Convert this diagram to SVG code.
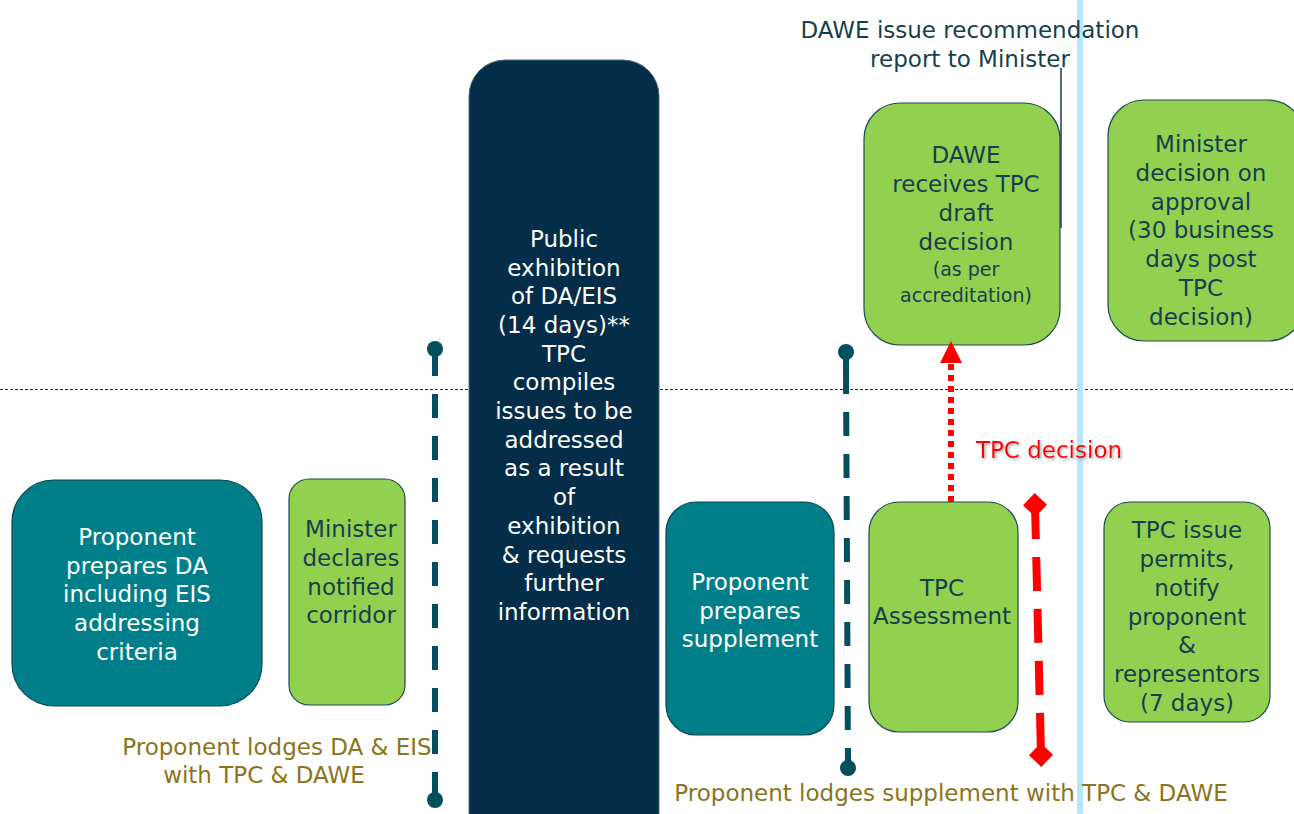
<svg xmlns="http://www.w3.org/2000/svg" width="1294" height="814" viewBox="0 0 1294 814">
<defs>
<style>
.t{font-family:"DejaVu Sans","Liberation Sans",sans-serif;font-size:23px;text-anchor:middle}
.w{fill:#ffffff}
.d{fill:#163f4d}
.o{fill:#8a7420}
.teal{fill:#007f8a;stroke:#0c4450;stroke-width:1.2}
.green{fill:#92d050;stroke:#1f4a50;stroke-width:1.2}
.navy{fill:#032d48;stroke:#4a6a80;stroke-width:1}
.dash{stroke:#02505f;stroke-width:6;stroke-dasharray:24 18;fill:none}
</style>
<marker id="dia" viewBox="0 0 10 10" refX="5" refY="5" markerWidth="3" markerHeight="3" orient="auto"><path d="M0 5 L5 0 L10 5 L5 10 Z" fill="#ff0000"/></marker>
<filter id="sh" x="-10%" y="-30%" width="130%" height="160%"><feDropShadow dx="1.5" dy="1.5" stdDeviation="1" flood-color="#888" flood-opacity="0.7"/></filter>
</defs>
<rect width="1294" height="814" fill="#ffffff"/>
<line x1="0" y1="389.5" x2="1294" y2="389.5" stroke="#0d2a3a" stroke-width="1" stroke-dasharray="3 2"/>
<rect x="1077" y="0" width="6" height="814" fill="#b7e6fb"/>

<g id="n-proponent-da"><rect class="teal" x="12" y="480" width="250" height="226" rx="42"/>
<text class="t w"><tspan x="137" y="545">Proponent</tspan><tspan x="137" y="574">prepares DA</tspan><tspan x="137" y="602">including EIS</tspan><tspan x="137" y="631">addressing</tspan><tspan x="137" y="660">criteria</tspan></text></g>

<g id="n-minister-declares"><rect class="green" x="289" y="479" width="116" height="226" rx="20"/>
<text class="t d"><tspan x="351" y="537">Minister</tspan><tspan x="351" y="566">declares</tspan><tspan x="351" y="595">notified</tspan><tspan x="351" y="623">corridor</tspan></text></g>

<g id="n-public-exhibition"><rect class="navy" x="469" y="60" width="190" height="790" rx="36"/>
<text class="t w"><tspan x="564" y="247">Public</tspan><tspan x="564" y="276">exhibition</tspan><tspan x="564" y="304">of DA/EIS</tspan><tspan x="564" y="333">(14 days)**</tspan><tspan x="564" y="362">TPC</tspan><tspan x="564" y="390">compiles</tspan><tspan x="564" y="419">issues to be</tspan><tspan x="564" y="448">addressed</tspan><tspan x="564" y="476">as a result</tspan><tspan x="564" y="505">of</tspan><tspan x="564" y="534">exhibition</tspan><tspan x="564" y="563">&amp; requests</tspan><tspan x="564" y="591">further</tspan><tspan x="564" y="620">information</tspan></text></g>

<g id="n-proponent-supplement"><rect class="teal" x="666" y="502" width="168" height="233" rx="30"/>
<text class="t w"><tspan x="750" y="590">Proponent</tspan><tspan x="750" y="619">prepares</tspan><tspan x="750" y="647">supplement</tspan></text></g>

<g id="n-tpc-assessment"><rect class="green" x="869" y="502" width="149" height="230" rx="30"/>
<text class="t d"><tspan x="942" y="596">TPC</tspan><tspan x="942" y="624">Assessment</tspan></text></g>

<g id="n-dawe-receives"><rect class="green" x="864" y="103" width="196" height="242" rx="36"/>
<text class="t d"><tspan x="966" y="163">DAWE</tspan><tspan x="966" y="192">receives TPC</tspan><tspan x="966" y="221">draft</tspan><tspan x="966" y="250">decision</tspan><tspan x="966" y="276" font-size="19">(as per</tspan><tspan x="966" y="302" font-size="19">accreditation)</tspan></text></g>

<g id="n-minister-decision"><rect class="green" x="1108" y="100" width="196" height="241" rx="36"/>
<text class="t d"><tspan x="1201" y="152">Minister</tspan><tspan x="1201" y="181">decision on</tspan><tspan x="1201" y="210">approval</tspan><tspan x="1201" y="238">(30 business</tspan><tspan x="1201" y="267">days post</tspan><tspan x="1201" y="296">TPC</tspan><tspan x="1201" y="325">decision)</tspan></text></g>

<g id="n-tpc-issue"><rect class="green" x="1104" y="502" width="166" height="220" rx="26"/>
<text class="t d"><tspan x="1187" y="538">TPC issue</tspan><tspan x="1187" y="567">permits,</tspan><tspan x="1187" y="596">notify</tspan><tspan x="1187" y="625">proponent</tspan><tspan x="1187" y="653">&amp;</tspan><tspan x="1187" y="682">representors</tspan><tspan x="1187" y="711">(7 days)</tspan></text></g>

<g id="connectors">
<line class="dash" x1="435" y1="352" x2="435" y2="800"/>
<line x1="435" y1="349" x2="435" y2="372" stroke="#02505f" stroke-width="6"/>
<circle cx="435" cy="349" r="8" fill="#02505f"/>
<line x1="435" y1="780" x2="435" y2="800" stroke="#02505f" stroke-width="6"/>
<circle cx="435" cy="800" r="8" fill="#02505f"/>
<line class="dash" x1="846" y1="370" x2="848" y2="768"/>
<line x1="846" y1="352" x2="846" y2="375" stroke="#02505f" stroke-width="6"/>
<circle cx="846" cy="352" r="8" fill="#02505f"/>
<line x1="848" y1="748" x2="848" y2="768" stroke="#02505f" stroke-width="6"/>
<circle cx="848" cy="768" r="8" fill="#02505f"/>
<line x1="951" y1="502" x2="951" y2="362" stroke="#ff0000" stroke-width="6" stroke-dasharray="6 5"/>
<polygon points="951,341 940,363 962,363" fill="#ff0000"/>
<line x1="1035" y1="505" x2="1041" y2="755" stroke="#ff0000" stroke-width="8" stroke-dasharray="34 18" marker-start="url(#dia)" marker-end="url(#dia)"/>
<line x1="1061" y1="68" x2="1061" y2="228" stroke="#1a3a4a" stroke-width="1.5"/>
</g>

<text class="t" fill="#ff0000" x="1049" y="458" filter="url(#sh)">TPC decision</text>
<text class="t d" font-size="24"><tspan x="970" y="38">DAWE issue recommendation</tspan><tspan x="970" y="67">report to Minister</tspan></text>
<text class="t o"><tspan x="277" y="755">Proponent lodges DA &amp; EIS</tspan><tspan x="264" y="783">with TPC &amp; DAWE</tspan></text>
<text class="t o" x="951" y="801">Proponent lodges supplement with TPC &amp; DAWE</text>
</svg>
